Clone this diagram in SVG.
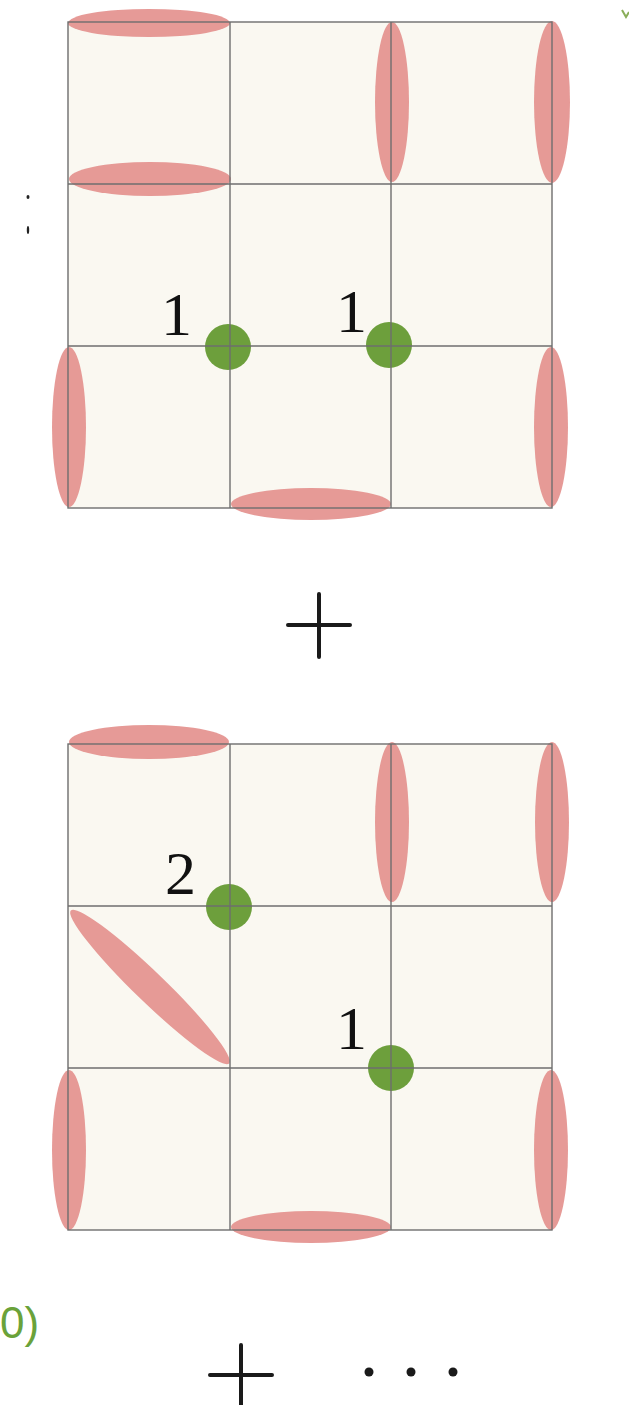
<svg xmlns="http://www.w3.org/2000/svg" width="629" height="1405" viewBox="0 0 629 1405">
<style>
.bg{fill:#faf8f1}
.grid{stroke:#6e6e6e;stroke-width:1.4;fill:none}
.pet{fill:#e38f8c;fill-opacity:0.9}
.dot{fill:#6d9f3c}
.num{font-family:"Liberation Serif","DejaVu Serif",serif;font-size:62px;fill:#111}
.op{stroke:#1a1a1a;stroke-width:4;stroke-linecap:round;fill:none}
</style>
<rect width="629" height="1405" fill="#ffffff"/>
<g id="panel-top">
<rect class="bg" x="68" y="22" width="484" height="486"/>
<ellipse class="pet" cx="149" cy="23" rx="81" ry="14"/>
<ellipse class="pet" cx="150" cy="179" rx="81" ry="17"/>
<ellipse class="pet" cx="392" cy="102" rx="17" ry="80"/>
<ellipse class="pet" cx="552" cy="102" rx="18" ry="81"/>
<ellipse class="pet" cx="69" cy="427" rx="17" ry="80"/>
<ellipse class="pet" cx="551" cy="427" rx="17" ry="80"/>
<ellipse class="pet" cx="311" cy="504" rx="80" ry="16"/>
<circle class="dot" cx="228" cy="347" r="23"/>
<circle class="dot" cx="389" cy="345" r="23"/>
<g class="grid">
<rect x="68" y="22" width="484" height="486"/>
<line x1="230" y1="22" x2="230" y2="508"/>
<line x1="391" y1="22" x2="391" y2="508"/>
<line x1="68" y1="184" x2="552" y2="184"/>
<line x1="68" y1="346" x2="552" y2="346"/>
</g>
<text class="num" x="161" y="335">1</text>
<text class="num" x="336" y="332">1</text>
</g>
<g id="plus-1"><path class="op" d="M288 625H350M319 594V657"/></g>
<g id="panel-bottom">
<rect class="bg" x="68" y="744" width="484" height="486"/>
<ellipse class="pet" cx="149" cy="742" rx="80" ry="17"/>
<ellipse class="pet" cx="392" cy="822" rx="17" ry="80"/>
<ellipse class="pet" cx="552" cy="822" rx="17" ry="80"/>
<ellipse class="pet" cx="150" cy="987" rx="110" ry="15" transform="rotate(44 150 987)"/>
<ellipse class="pet" cx="69" cy="1150" rx="17" ry="80"/>
<ellipse class="pet" cx="551" cy="1150" rx="17" ry="80"/>
<ellipse class="pet" cx="311" cy="1227" rx="80" ry="16"/>
<circle class="dot" cx="229" cy="907" r="23"/>
<circle class="dot" cx="391" cy="1068" r="23"/>
<g class="grid">
<rect x="68" y="744" width="484" height="486"/>
<line x1="230" y1="744" x2="230" y2="1230"/>
<line x1="391" y1="744" x2="391" y2="1230"/>
<line x1="68" y1="906" x2="552" y2="906"/>
<line x1="68" y1="1068" x2="552" y2="1068"/>
</g>
<text class="num" x="165" y="894">2</text>
<text class="num" x="336" y="1049">1</text>
</g>
<g id="tail">
<text x="0" y="1338" font-family="Liberation Sans, Arial, sans-serif" font-size="44" fill="#6aa23a">0)</text>
<path class="op" d="M210 1375H272M241 1345V1405"/>
<circle cx="369" cy="1372" r="4.5" fill="#1a1a1a"/>
<circle cx="411" cy="1372" r="4.5" fill="#1a1a1a"/>
<circle cx="453" cy="1372" r="4.5" fill="#1a1a1a"/>
</g>
<g id="marks">
<ellipse cx="28" cy="197" rx="1.5" ry="2" fill="#222"/>
<ellipse cx="28" cy="230" rx="1.2" ry="4" fill="#222"/>
<path d="M622 10L626 17L629 12" stroke="#8aae5a" stroke-width="2" fill="none"/>
</g>
</svg>
